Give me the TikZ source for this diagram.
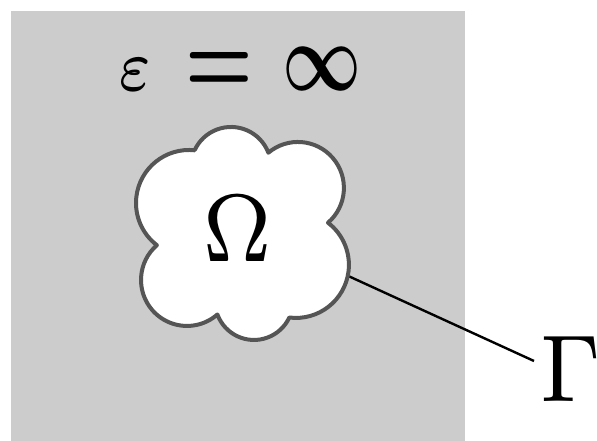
\documentclass[tikz,border=0pt]{standalone}
\usetikzlibrary{calc}
\definecolor{backdrop}{RGB}{204,204,204}
\definecolor{rim}{RGB}{85,85,85}
% one puff of the cloud: arc about centre #1 from point #2 round to point #3 (counter-clockwise)
\newcommand\puffarc[3]{let \p1=($(#2)-(#1)$), \p2=($(#3)-(#1)$),
  \n1={atan2(\y1,\x1)}, \n2={atan2(\y2,\x2)},
  \n3={mod(\n2-\n1+720,360)}, \n4={veclen(\x1,\y1)} in
  arc[start angle=\n1, delta angle=\n3, radius=\n4]}
\begin{document}
\begin{tikzpicture}[x=1pt,y=1pt,
  cloudline/.style={draw=rim, line width=4pt, fill=white, line join=round},
  leader/.style={draw=black, line width=2.4pt},
  glyph/.style={inner sep=0pt, outer sep=0pt, anchor=base, text=black},
  heavyglyph/.style={glyph, font=\boldmath}]
\useasboundingbox (0,0) rectangle (597,441);
\fill[backdrop] (11,0) rectangle (465,430);

% puff centres
\coordinate (cT)  at (231,274);
\coordinate (cUR) at (298,253);
\coordinate (cLR) at (296,176);
\coordinate (cB)  at (254,140);
\coordinate (cLL) at (187,161);
\coordinate (cUL) at (189,238);
% cusps between neighbouring puffs
\coordinate (k1) at (194.7,290.7);
\coordinate (k2) at (268.4,288.3);
\coordinate (k3) at (328.1,218.2);
\coordinate (k4) at (289.4,123.4);
\coordinate (k5) at (217.4,126.5);
\coordinate (k6) at (156.9,195.8);

% leader from the boundary to the label
\coordinate (tie) at (345,166.5);
\coordinate (tip) at (534,80);
\draw[leader] (tie) -- (tip);

% the region
\draw[cloudline] (k1) \puffarc{cUL}{k1}{k6} \puffarc{cLL}{k6}{k5}
  \puffarc{cB}{k5}{k4} \puffarc{cLR}{k4}{k3} \puffarc{cUR}{k3}{k2}
  \puffarc{cT}{k2}{k1} -- cycle;

\node[glyph] (eps) at (135.5,350) {\resizebox{37pt}{31.5pt}{$\scriptscriptstyle\varepsilon$}};
\node[heavyglyph] (eq) at (219,347.2) {\resizebox{67.7pt}{40.8pt}{$=$}};
\node[heavyglyph] (inf) at (322.5,350) {\resizebox{79pt}{43pt}{$\infty$}};
\node[glyph] (om) at (237.5,179) {\resizebox{72pt}{65pt}{$\scriptscriptstyle\Omega$}};
\node[glyph, anchor=base west] (gam) at (539,39) {\resizebox{62pt}{65pt}{$\scriptstyle\Gamma$}};
\end{tikzpicture}
\end{document}
